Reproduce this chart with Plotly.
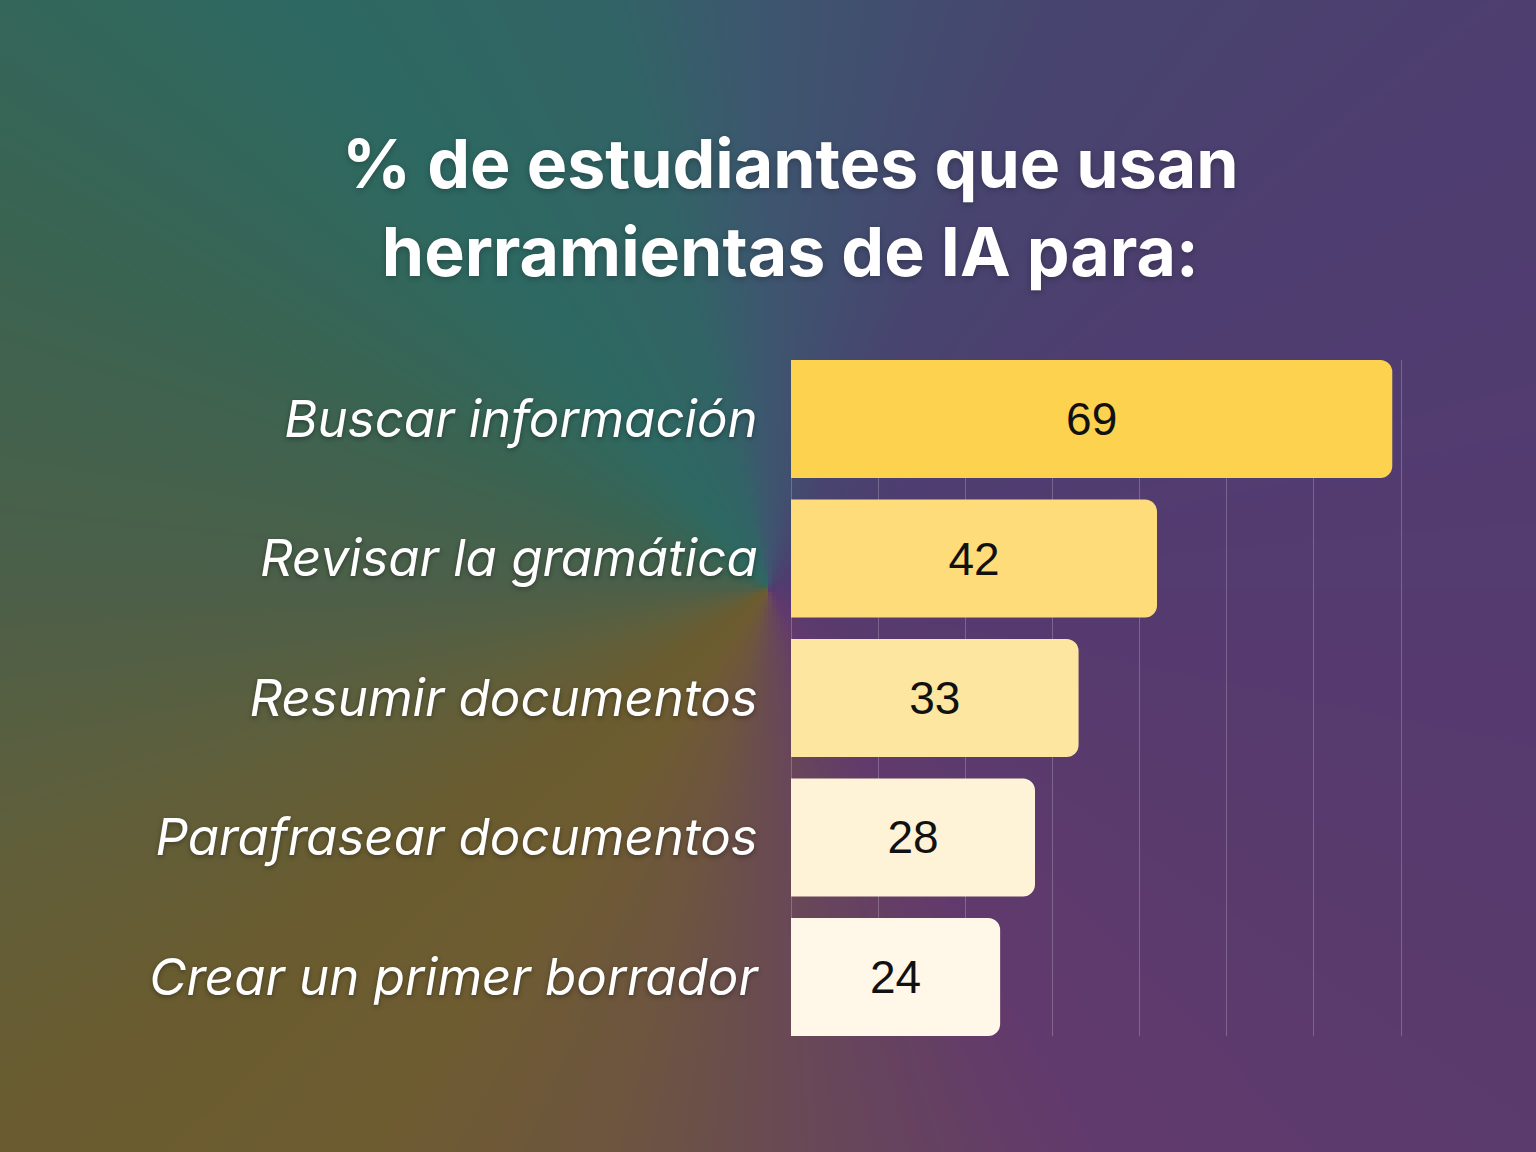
import numpy as np
import plotly.graph_objects as go

# Data
categories = ["Buscar información", "Revisar la gramática", "Resumir documentos",
              "Parafrasear documentos", "Crear un primer borrador"]
values = [69, 42, 33, 28, 24]
bar_colors = ["#fcd24f", "#fddc79", "#fde6a0", "#fef3d6", "#fff8e8"]
x_ticks = [0, 10, 20, 30, 40, 50, 60, 70]

W, H = 1536, 1152
title_text = "% de estudiantes que usan<br>herramientas de IA para:"

# Background: conic gradient around a point left of the bars
stop_angles = [0, 25, 55, 90, 125, 150, 175, 195, 215, 235, 250, 270, 295, 320, 345, 360]
stop_colors = ["#3e5670", "#47466f", "#4e3e70", "#553b70", "#5b3a6d", "#623a6d",
               "#694858", "#6d5540", "#6f5c32", "#6a5c30", "#625f3a", "#4d6049",
               "#3b6452", "#2e6962", "#326466", "#3e5670"]


def hex_to_rgb(h):
    h = h.lstrip("#")
    return [int(h[i:i + 2], 16) for i in (0, 2, 4)]


step = 4
cx, cy = 767, 587
xs = np.arange(0, W, step)
ys = np.arange(0, H, step)
gx, gy = np.meshgrid(xs, ys)
ang = (np.degrees(np.arctan2(gx - cx, -(gy - cy))) + 360) % 360
rgb = np.array([hex_to_rgb(c) for c in stop_colors], dtype=float)
bg = np.zeros(gx.shape + (3,), dtype=np.uint8)
for ch in range(3):
    bg[..., ch] = np.interp(ang, stop_angles, rgb[:, ch]).astype(np.uint8)

fig = go.Figure()

# background image on its own (hidden) axes, drawn first
fig.add_trace(go.Image(z=bg, x0=0, dx=step, y0=0, dy=step, zsmooth="fast",
                       hoverinfo="skip", xaxis="x", yaxis="y"))

# bars
fig.add_trace(go.Bar(
    x=values,
    y=categories,
    orientation="h",
    marker=dict(color=bar_colors, cornerradius=12, line=dict(width=0)),
    text=[str(v) for v in values],
    textposition="inside",
    insidetextanchor="middle",
    textangle=0,
    textfont=dict(family="Liberation Sans, Arial", size=46, color="#111111"),
    constraintext="none",
    hoverinfo="skip",
    xaxis="x2",
    yaxis="y2",
))

fig.add_annotation(
    text=title_text,
    xref="paper", yref="paper",
    x=790 / W, y=1 - 207 / H,
    xanchor="center", yanchor="middle",
    showarrow=False,
    font=dict(family="Inter, Open Sans", size=68, color="white", weight=700,
              shadow="0px 2px 6px rgba(0,0,0,0.25)"),
)

# x scale: 0..70 spans 791..1401 px
px_per_unit = (1401 - 791) / 70
x_lo, x_hi = -0.15, 70.3

fig.update_layout(
    width=W,
    height=H,
    margin=dict(l=0, r=0, t=0, b=0),
    paper_bgcolor="#4a4a6a",
    plot_bgcolor="rgba(0,0,0,0)",
    showlegend=False,
    bargap=0.154,
    xaxis=dict(domain=[0, 1], range=[-step / 2, W - step / 2], visible=False, fixedrange=True),
    yaxis=dict(domain=[0, 1], range=[H - step / 2, -step / 2], visible=False, fixedrange=True),
    xaxis2=dict(
        domain=[(791 + x_lo * px_per_unit) / W, (791 + x_hi * px_per_unit) / W],
        anchor="y2",
        range=[x_lo, x_hi],
        tickvals=x_ticks,
        showticklabels=False,
        showgrid=True,
        gridcolor="rgba(255,255,255,0.22)",
        gridwidth=1,
        zeroline=False,
        showline=False,
    ),
    yaxis2=dict(
        domain=[1 - 1036 / H, 1 - 360 / H],
        anchor="x2",
        range=[4.423, -0.423],
        showgrid=False,
        zeroline=False,
        showline=False,
        ticks="",
        ticklabelstandoff=31,
        tickfont=dict(family="Inter, Open Sans", size=51, color="white", style="italic",
                      weight=400, shadow="0px 2px 5px rgba(0,0,0,0.35)"),
    ),
)

fig.write_html("out.html", config={"displayModeBar": False},
               post_script="document.body.style.margin='0';")
